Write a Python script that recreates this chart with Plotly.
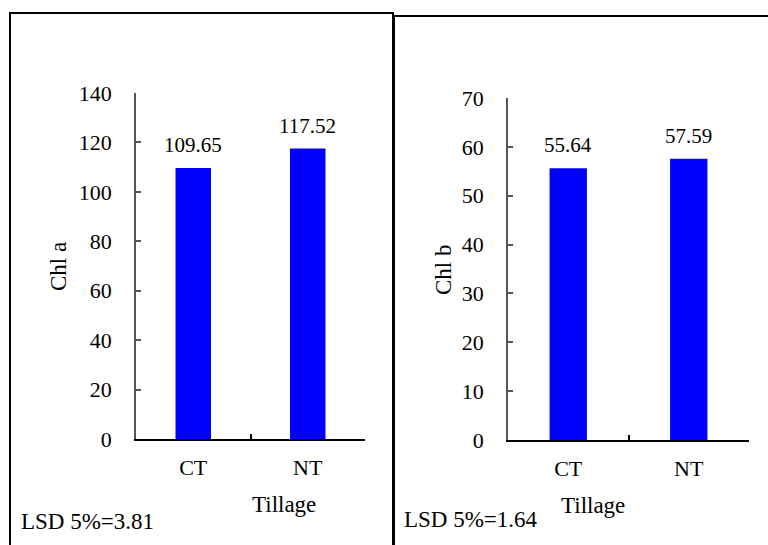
import plotly.graph_objects as go

categories = ["CT", "NT"]
chl_a = [109.65, 117.52]
chl_b = [55.64, 57.59]
lsd_a = "LSD 5%=3.81"
lsd_b = "LSD 5%=1.64"
x_title = "Tillage"
y_title_a = "Chl a"
y_title_b = "Chl b"

W, H = 768, 545
def px(x): return x / W
def py(y): return 1 - y / H

FONT = "Liberation Serif"
BLUE = "#0000FF"

fig = go.Figure()
fig.add_trace(go.Bar(x=categories, y=chl_a, marker_color=BLUE, width=0.31,
                     marker_line_width=0, xaxis="x", yaxis="y", showlegend=False))
fig.add_trace(go.Bar(x=categories, y=chl_b, marker_color=BLUE, width=0.31,
                     marker_line_width=0, xaxis="x2", yaxis="y2", showlegend=False))

annotations = []
for c, v in zip(categories, chl_a):
    annotations.append(dict(x=c, y=v, xref="x", yref="y", text=f"{v:.2f}", showarrow=False,
                            yanchor="bottom", yshift=9, font=dict(size=21, family=FONT, color="black")))
for c, v in zip(categories, chl_b):
    annotations.append(dict(x=c, y=v, xref="x2", yref="y2", text=f"{v:.2f}", showarrow=False,
                            yanchor="bottom", yshift=9, font=dict(size=21, family=FONT, color="black")))

def txt(x, y, t, size=23, **kw):
    d = dict(x=px(x), y=py(y), xref="paper", yref="paper", text=t, showarrow=False,
             yanchor="middle", font=dict(size=size, family=FONT, color="black"))
    d.update(kw)
    return d

annotations += [
    txt(58, 267, y_title_a, textangle=-90, xanchor="center"),
    txt(443, 270, y_title_b, textangle=-90, xanchor="center"),
    txt(250, 504, x_title),
    txt(627, 505, x_title),
    txt(19, 521, lsd_a, xanchor="left"),
    txt(402, 519, lsd_b, xanchor="left"),
]

xaxis_common = dict(type="category", range=[-0.5, 1.5], showline=True, linecolor="black",
                    linewidth=1.5, ticks="inside", tickson="boundaries", ticklen=5,
                    tickcolor="black", tickwidth=1.5, showgrid=False, zeroline=False, automargin=False,
                    ticklabelstandoff=8,
                    tickfont=dict(size=22, family=FONT, color="black"), fixedrange=True)
yaxis_common = dict(showline=True, linecolor="#555555", linewidth=1.5, ticks="inside",
                    ticklen=5, tickcolor="#555555", tickwidth=1.5, showgrid=False, zeroline=False,
                    automargin=False, ticklabelstandoff=18,
                    tickfont=dict(size=22, family=FONT, color="black"), fixedrange=True)

fig.update_layout(
    template="none",
    width=W, height=H, autosize=False,
    margin=dict(l=0, r=0, t=0, b=0, pad=0),
    paper_bgcolor="white", plot_bgcolor="white",
    font=dict(family=FONT, color="black"),
    showlegend=False,
    xaxis=dict(domain=[px(136), px(365)], anchor="y", **xaxis_common),
    yaxis=dict(domain=[py(439), py(93)], anchor="x", range=[0, 140], dtick=20, **yaxis_common),
    xaxis2=dict(domain=[px(508), px(749)], anchor="y2", **xaxis_common),
    yaxis2=dict(domain=[py(440), py(98)], anchor="x2", range=[0, 70], dtick=10, **yaxis_common),
    annotations=annotations,
    shapes=[
        dict(type="rect", xref="paper", yref="paper", x0=px(10), x1=px(393), y0=py(560), y1=py(13),
             line=dict(color="black", width=2)),
        dict(type="line", xref="paper", yref="paper", x0=px(394), x1=px(780), y0=py(16), y1=py(16),
             line=dict(color="black", width=2)),
        dict(type="line", xref="paper", yref="paper", x0=px(394), x1=px(394), y0=py(16), y1=py(560),
             line=dict(color="black", width=2)),
    ],
)

fig.write_html("out.html", config={"displayModeBar": False},
               post_script="document.body.style.margin='0';document.body.style.overflow='hidden';")
